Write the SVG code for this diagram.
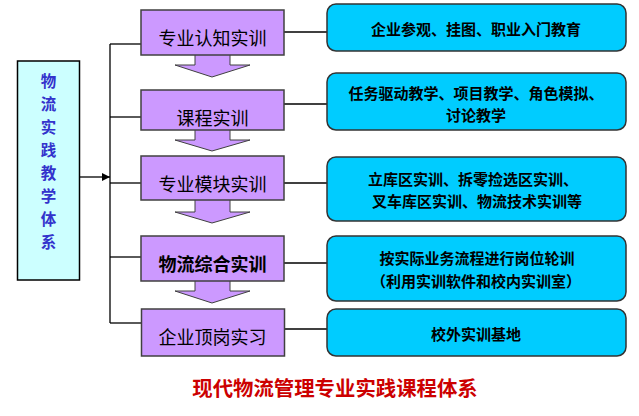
<svg xmlns="http://www.w3.org/2000/svg" width="639" height="416" viewBox="0 0 639 416">
<style>
.cjk{font-family:"Noto Sans CJK SC","Noto Sans",sans-serif;}
.stage rect{fill:#CC99FF;stroke:#404040;stroke-width:1.5;}
.stage text{font-size:18px;fill:#000;text-anchor:middle;dominant-baseline:central;}
.desc rect{fill:#00CCFF;stroke:#333;stroke-width:1.5;}
.desc text{font-size:15px;font-weight:bold;fill:#000;text-anchor:middle;dominant-baseline:central;}
.flow{fill:#CC99FF;stroke:#404040;stroke-width:1;}
.conn{stroke:#000;stroke-width:1.3;fill:none;}
</style>
<defs>
<marker id="ah" viewBox="0 0 10 10" refX="10" refY="5" markerWidth="8" markerHeight="8" markerUnits="userSpaceOnUse" orient="auto">
<path d="M0,0 L10,5 L0,10 z" fill="#000"/>
</marker>
</defs>
<rect width="639" height="416" fill="#fff"/>

<g id="flow-arrows">
<path class="flow" d="M195,54 L195,65 L175,65 L212,77 L250,65 L230,65 L230,54 z"/>
<path class="flow" d="M195,129 L195,140 L175,140 L212,151 L250,140 L230,140 L230,129 z"/>
<path class="flow" d="M195,199 L195,212 L175,212 L212,223 L250,212 L230,212 L230,199 z"/>
<path class="flow" d="M195,280 L195,291 L175,291 L212,303 L250,291 L230,291 L230,280 z"/>
</g>

<g id="connectors">
<line class="conn" x1="79.5" y1="177" x2="110" y2="177" marker-end="url(#ah)"/>
<line class="conn" x1="110" y1="44" x2="110" y2="323"/>
<line class="conn" x1="110" y1="44" x2="141" y2="44"/>
<line class="conn" x1="110" y1="117" x2="141" y2="117"/>
<line class="conn" x1="110" y1="183" x2="141" y2="183"/>
<line class="conn" x1="110" y1="257" x2="141" y2="257"/>
<line class="conn" x1="110" y1="323" x2="141" y2="323"/>
<line class="conn" x1="284" y1="32" x2="327" y2="32"/>
<line class="conn" x1="284" y1="104" x2="327" y2="104"/>
<line class="conn" x1="284" y1="183" x2="327" y2="183"/>
<line class="conn" x1="284" y1="263" x2="327" y2="263"/>
<line class="conn" x1="284" y1="329" x2="327" y2="329"/>
</g>

<g id="root" class="cjk">
<rect x="17.5" y="61" width="62" height="219" fill="#CCFFFF" stroke="#000" stroke-width="1.5"/>
<g font-size="15.5" font-weight="bold" fill="#3333CC" text-anchor="middle" dominant-baseline="central">
<text x="48.5" y="80">物</text>
<text x="48.5" y="103">流</text>
<text x="48.5" y="126">实</text>
<text x="48.5" y="149">践</text>
<text x="48.5" y="172">教</text>
<text x="48.5" y="195">学</text>
<text x="48.5" y="218">体</text>
<text x="48.5" y="241">系</text>
</g>
</g>

<g id="stage1" class="stage cjk"><rect x="141" y="10" width="143" height="45"/><text x="212.5" y="37">专业认知实训</text></g>
<g id="stage2" class="stage cjk"><rect x="141" y="90" width="143" height="40"/><text x="212.5" y="117">课程实训</text></g>
<g id="stage3" class="stage cjk"><rect x="141" y="156" width="143" height="44"/><text x="212.5" y="183">专业模块实训</text></g>
<g id="stage4" class="stage cjk"><rect x="141" y="236" width="143" height="45"/><text x="212.5" y="263" font-weight="bold">物流综合实训</text></g>
<g id="stage5" class="stage cjk"><rect x="141.5" y="309" width="143" height="47"/><text x="212.5" y="336">企业顶岗实习</text></g>

<g id="desc1" class="desc cjk"><rect x="327" y="4" width="299" height="47" rx="9"/><text x="476" y="28">企业参观、挂图、职业入门教育</text></g>
<g id="desc2" class="desc cjk"><rect x="327" y="73" width="299" height="57" rx="9"/><text x="476" y="92">任务驱动教学、项目教学、角色模拟、</text><text x="476" y="114">讨论教学</text></g>
<g id="desc3" class="desc cjk"><rect x="327" y="157" width="299" height="64" rx="9"/><text x="473" y="178">立库区实训、拆零捡选区实训、</text><text x="477" y="200">叉车库区实训、物流技术实训等</text></g>
<g id="desc4" class="desc cjk"><rect x="327" y="236" width="299" height="65" rx="9"/><text x="477" y="257">按实际业务流程进行岗位轮训</text><text x="476" y="280">（利用实训软件和校内实训室）</text></g>
<g id="desc5" class="desc cjk"><rect x="327" y="309" width="299" height="47" rx="9"/><text x="476" y="333">校外实训基地</text></g>

<text id="title" class="cjk" x="335" y="387" font-size="20.4" font-weight="bold" fill="#CC0000" text-anchor="middle" dominant-baseline="central">现代物流管理专业实践课程体系</text>
</svg>
